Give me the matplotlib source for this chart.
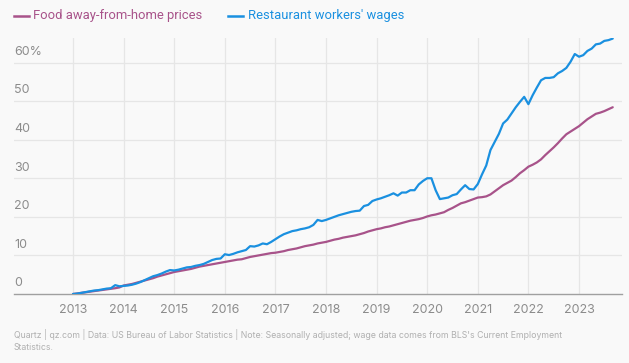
import matplotlib.pyplot as plt
import numpy as np

# monthly series, Jan 2013 - Sep 2023, % change since Jan 2013
years = list(range(2013, 2024))

food_prices = [
    0.0, 0.15, 0.3, 0.45, 0.6, 0.75, 0.9, 1.05, 1.2, 1.35, 1.5, 1.7,          # 2013
    2.2, 2.4, 2.6, 2.9, 3.2, 3.5, 3.8, 4.1, 4.5, 4.8, 5.1, 5.4,               # 2014
    5.7, 5.9, 6.1, 6.3, 6.5, 6.8, 7.1, 7.3, 7.5, 7.7, 7.9, 8.1,               # 2015
    8.3, 8.5, 8.7, 8.9, 9.0, 9.3, 9.6, 9.8, 10.0, 10.2, 10.4, 10.6,           # 2016
    10.7, 10.9, 11.1, 11.4, 11.6, 11.8, 12.1, 12.4, 12.6, 12.8, 13.1, 13.3,   # 2017
    13.5, 13.8, 14.1, 14.3, 14.6, 14.8, 15.0, 15.2, 15.5, 15.8, 16.2, 16.5,   # 2018
    16.8, 17.0, 17.3, 17.5, 17.8, 18.1, 18.4, 18.7, 19.0, 19.2, 19.4, 19.7,   # 2019
    20.1, 20.4, 20.6, 20.9, 21.2, 21.8, 22.3, 22.9, 23.5, 23.8, 24.2, 24.6,   # 2020
    25.0, 25.1, 25.3, 25.8, 26.6, 27.4, 28.2, 28.8, 29.4, 30.3, 31.3, 32.1,   # 2021
    33.0, 33.5, 34.1, 34.9, 36.0, 37.0, 38.0, 39.1, 40.3, 41.4, 42.1, 42.8,   # 2022
    43.5, 44.4, 45.3, 46.0, 46.7, 47.0, 47.4, 47.9, 48.4,                     # 2023
]

wages = [
    0.0, 0.1, 0.3, 0.5, 0.7, 0.9, 1.0, 1.2, 1.4, 1.5, 2.3, 2.0,               # 2013
    2.1, 2.2, 2.4, 2.7, 3.1, 3.6, 4.1, 4.6, 4.9, 5.3, 5.8, 6.2,               # 2014
    6.1, 6.3, 6.6, 6.9, 7.0, 7.3, 7.5, 7.8, 8.3, 8.8, 9.1, 9.2,               # 2015
    10.3, 10.1, 10.4, 10.8, 11.1, 11.4, 12.4, 12.3, 12.6, 13.1, 12.9, 13.5,   # 2016
    14.2, 14.9, 15.5, 15.9, 16.3, 16.5, 16.8, 17.0, 17.3, 17.9, 19.2, 18.9,   # 2017
    19.2, 19.6, 20.0, 20.4, 20.7, 21.0, 21.3, 21.5, 21.6, 22.8, 23.1, 24.1,   # 2018
    24.5, 24.8, 25.2, 25.6, 26.1, 25.5, 26.3, 26.3, 26.9, 26.9, 28.4, 29.3,   # 2019
    30.0, 30.0, 26.9, 24.6, 24.8, 25.0, 25.6, 25.9, 27.1, 28.2, 27.2, 27.1,   # 2020
    28.5, 31.0, 33.3, 37.3, 39.4, 41.5, 44.2, 45.2, 46.8, 48.4, 49.8, 51.1,   # 2021
    49.2, 51.5, 53.5, 55.4, 56.0, 56.0, 56.2, 57.2, 57.8, 58.6, 60.2, 62.2,   # 2022
    61.5, 61.9, 63.0, 63.6, 64.7, 64.9, 65.6, 65.8, 66.2,                     # 2023
]

t = 2013 + np.arange(len(wages)) / 12

red = '#a8538a'
blue = '#1a90e0'
bg = '#f9f9f9'

plt.rcParams['font.family'] = ['Inter', 'DejaVu Sans']

fig = plt.figure(figsize=(6.29, 3.63), dpi=100, facecolor=bg)
W, H = 629, 363
ax = fig.add_axes([14 / W, 1 - 294 / H, (622 - 14) / W, (294 - 38) / H])
ax.set_facecolor(bg)

ax.plot(t, food_prices, color=red, linewidth=1.6, solid_capstyle='round', zorder=3)
ax.plot(t, wages, color=blue, linewidth=1.6, solid_capstyle='round', zorder=4)

x0 = 2013 + (14 - 73) / 50.6
x1 = 2013 + (622 - 73) / 50.6
ax.set_xlim(x0, x1)
ax.set_ylim(0, 66.35)

for s in ['top', 'right', 'left']:
    ax.spines[s].set_visible(False)
ax.spines['bottom'].set_color('#a0a0a0')
ax.spines['bottom'].set_linewidth(1.0)

ax.set_xticks(years)
ax.set_xticklabels([str(y) for y in years], fontsize=9, color='#8c8c8c')
ax.tick_params(axis='x', length=0, pad=7)
ax.set_yticks([10, 20, 30, 40, 50, 60])
ax.set_yticklabels([])
ax.tick_params(axis='y', length=0)
ax.grid(True, color='#e6e6e6', linewidth=0.9, zorder=0)
ax.set_axisbelow(True)

for v in [0, 10, 20, 30, 40, 50, 60]:
    lab = '60%' if v == 60 else str(v)
    ax.text(x0, v + 1.2, lab, fontsize=9, color='#8c8c8c', ha='left', va='bottom')

# legend
fig.lines.append(plt.Line2D([14 / W, 29 / W], [1 - 16 / H, 1 - 16 / H], color=red, linewidth=1.8,
                            transform=fig.transFigure))
fig.text(33 / W, 1 - 16 / H, 'Food away-from-home prices', color=red, fontsize=9.4,
         family='Roboto', va='center')
fig.lines.append(plt.Line2D([228 / W, 243 / W], [1 - 16 / H, 1 - 16 / H], color=blue, linewidth=1.8,
                            transform=fig.transFigure))
fig.text(248 / W, 1 - 16 / H, "Restaurant workers' wages", color=blue, fontsize=9.4,
         family='Roboto', va='center')

# footer
fig.text(14 / W, 1 - 335 / H,
         "Quartz | qz.com | Data: US Bureau of Labor Statistics | Note: Seasonally adjusted; wage data comes from BLS's Current Employment",
         color='#b0b0b0', fontsize=6.3, va='center')
fig.text(14 / W, 1 - 348 / H, 'Statistics.', color='#b0b0b0', fontsize=6.3, va='center')

plt.savefig('out.png', dpi=100, facecolor=bg)
